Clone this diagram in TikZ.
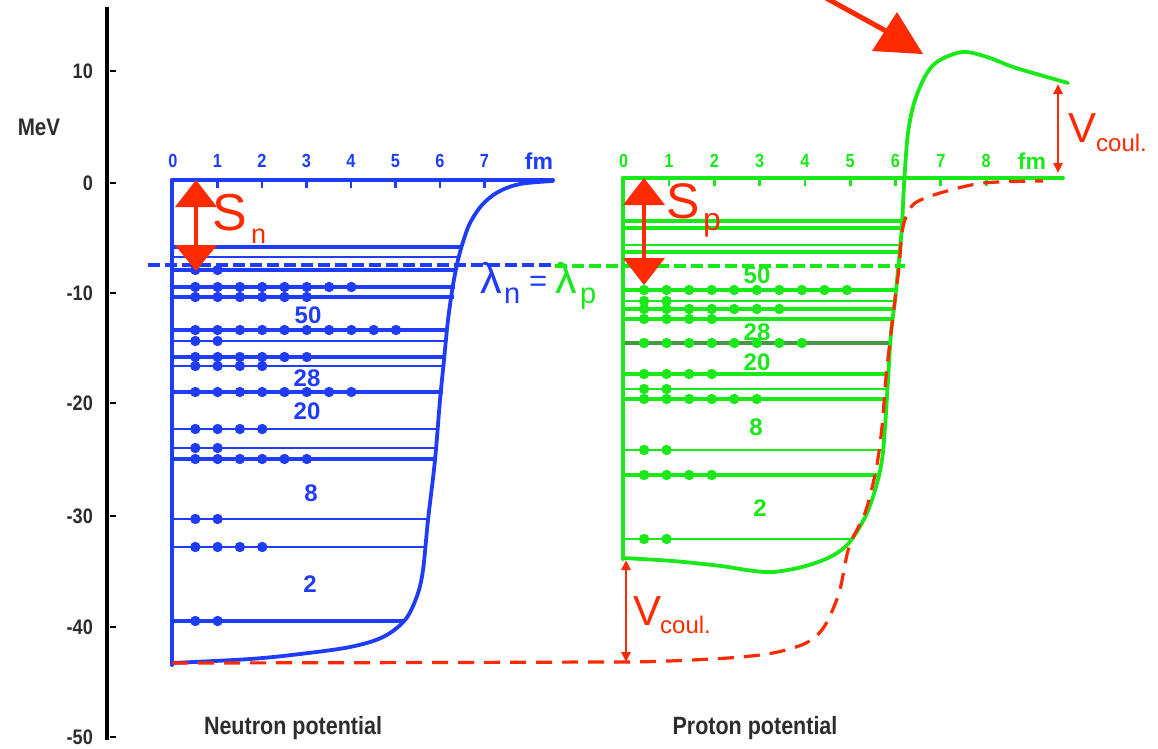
\documentclass[tikz,border=0pt]{standalone}
\usepackage{fontspec}
\setmainfont{Liberation Sans}
\newfontfamily\nb[FakeStretch=0.86]{Liberation Sans}
\usetikzlibrary{arrows.meta}
\definecolor{nblue}{RGB}{30,60,250}
\definecolor{pgreen}{RGB}{25,232,25}
\definecolor{pdark}{RGB}{70,150,70}
\definecolor{cred}{RGB}{255,42,0}
\definecolor{tgray}{RGB}{45,45,45}
\newcommand\myfs[1]{\fontsize{#1}{#1}\selectfont}
\begin{document}
\begin{tikzpicture}[x=1pt,y=-1pt,
  axlab/.style={anchor=east,inner sep=0,text=tgray,font=\nb\bfseries\myfs{21}},
  fmlab/.style={inner sep=0,font=\nb\bfseries\myfs{19}},
  fmunit/.style={inner sep=0,font=\bfseries\myfs{23}},
  magic/.style={inner sep=0,font=\bfseries\myfs{24}},
  redtxt/.style={inner sep=0,anchor=base west,text=cred},
  captxt/.style={inner sep=0,text=tgray,font=\nb\bfseries\myfs{25}},
  wall/.style={line width=3.8pt,line join=round,line cap=round},
  fermi/.style={line width=4pt,dash pattern=on 12pt off 5pt},
  reddash/.style={cred,line width=3.2pt,dash pattern=on 16pt off 10pt},
  vcarrow/.style={cred,line width=2.6pt,{Triangle[length=10pt,width=9pt]}-{Triangle[length=10pt,width=9pt]}},
]
\useasboundingbox (0,0) rectangle (1158,748);
\fill[white] (0,0) rectangle (1158,748);

% ---------- energy axis ----------
\draw[black,line width=4pt] (107,7) coordinate (axT) -- (107,740) coordinate (axB);
\foreach \v/\y in {10/71,0/183,-10/293,-20/403,-30/516,-40/627,-50/737}{
  \draw[black,line width=2.2pt] (110,\y) -- (116,\y);
  \node[axlab] (ax\y) at (93,\y) {\v};
}
\node[inner sep=0,text=tgray,font=\nb\bfseries\myfs{24}] (mev) at (39,127) {MeV};

% ---------- neutron well ----------
\foreach \y/\xe/\n/\w in {270/457/2/3.2,287/455/8/3.2,297/454/6/3.2,330/448/10/3.2,341/447/2/2.8,
  357/446/6/3.2,366/445/4/2.8,392/443/8/3.6,429/438/4/2.8,448/436/2/2.8,459/434/6/3.6,
  519/428/2/2.8,547/425/4/2.4,621/405/2/3.6}{
  \draw[nblue,line width=\w pt] (172,\y) -- (\xe,\y);
  \foreach \k in {1,...,\n}{\fill[nblue] (173+22.3*\k,\y) circle[radius=5.2pt];}
}
\draw[nblue,line width=3.6pt] (172,247) -- (460,247);
\draw[nblue,line width=2.8pt] (172,257) -- (458,257);
\draw[nblue,wall] (172,180) -- (553,180);
\draw[nblue,wall] (172,180) -- (172,665);
\foreach \k in {1,...,7}{\draw[nblue,line width=2.8pt] (173+44.5*\k,180) -- (173+44.5*\k,188);}
\draw[nblue,wall] plot[smooth,tension=0.55] coordinates {(172,663) (250,659) (300,654) (350,647)
  (383,637) (405,620) (417,596) (423,570) (428,520) (435,460) (440,400) (444,360) (448,320)
  (453,285) (458,260) (463,242) (470,223) (482,205) (498,192) (520,184) (553,181)};
\foreach \k in {0,...,7}{\node[fmlab,text=nblue] (nfm\k) at (173+44.5*\k,161) {\k};}
\node[fmunit,text=nblue] (nfmu) at (539,161) {fm};
\foreach \t/\x/\y in {50/308/315,28/307/378,20/307/411,8/311/493,2/310/584}{
  \node[magic,text=nblue] (nm\t) at (\x,\y) {\t};
}

% ---------- proton well ----------
\foreach \y/\xe/\n/\w in {290/896/10/3.2,301/895/2/2.8,309/894/7/3.2,319/893/4/3.2,
  374/887/4/3.6,389/886/2/2.8,399/886/6/3.2,450/882/2/2.8,475/878/4/3.6,539/851/2/2.8}{
  \draw[pgreen,line width=\w pt] (623,\y) -- (\xe,\y);
  \foreach \k in {1,...,\n}{\fill[pgreen] (621.5+22.55*\k,\y) circle[radius=5.2pt];}
}
\draw[pdark,line width=3.6pt] (623,343) -- (889,343);
\foreach \k in {1,...,8}{\fill[pgreen] (621.5+22.55*\k,343) circle[radius=5.2pt];}
\foreach \y/\w in {221/3.6,228/3.6,245/2.8,252/3.2}{\draw[pgreen,line width=\w pt] (623,\y) -- (901,\y);}
\draw[pgreen,wall] (623,178) -- (1063,178);
\draw[pgreen,wall] (623,178) -- (623,559);
\foreach \k in {1,...,8}{\draw[pgreen,line width=2.8pt] (623.7+45.3*\k,178) -- (623.7+45.3*\k,186);}
\draw[pgreen,wall] plot[smooth,tension=0.55] coordinates {(623,558) (673,561) (721,566) (750,570.5)
  (773,572) (802,567) (828,558) (845,547) (856,533) (867,513) (876,487) (882,460) (885,427)
  (888,380) (891,333) (895,300) (899,260) (902,225) (904,185) (908,133) (915,100) (927,73)
  (940,60) (963,52) (987,57) (1013,67) (1040,75) (1068,83)};
\foreach \k in {0,...,8}{\node[fmlab,text=pgreen] (pfm\k) at (623.7+45.3*\k,161) {\k};}
\node[fmunit,text=pgreen] (pfmu) at (1032,161) {fm};
\foreach \t/\x/\y in {50/757/275,28/757/332,20/757/362,8/756/427,2/760/508}{
  \node[magic,text=pgreen] (pm\t) at (\x,\y) {\t};
}

% ---------- Fermi levels ----------
\draw[nblue,fermi] (148,265) -- (555,265);
\draw[pgreen,fermi] (555,266) -- (905,266);
\node[redtxt,text=nblue,font=\myfs{43}] (lamn) at (480,293) {λ};
\node[redtxt,text=nblue,font=\myfs{29}] (lamnsub) at (504,303) {n};
\node[redtxt,text=nblue,font=\myfs{31}] (eq) at (529,291) {=};
\node[redtxt,text=pgreen,font=\myfs{43}] (lamp) at (555,293) {λ};
\node[redtxt,text=pgreen,font=\myfs{29}] (lampsub) at (580,303) {p};

% ---------- red dashed potential (without Coulomb) ----------
\draw[reddash] plot[smooth,tension=0.5] coordinates {(172,663) (400,662.6) (591,662) (654,661.5)
  (728,658) (773,653) (806,643) (824,627) (839,593) (849,547) (865,513) (876,470) (882,427)
  (886,377) (891,333) (895,300) (899,267) (902,233) (906,217) (915,203) (940,193) (983,183) (1043,181)};

% ---------- separation energy arrows ----------
\coordinate (snT) at (196,180); \coordinate (snB) at (196,271);
\fill[cred] (snT) -- (217,207) -- (175,207) -- cycle;
\fill[cred] (snB) -- (217,245) -- (175,245) -- cycle;
\draw[cred,line width=4.5pt] (196,204) -- (196,248);
\node[redtxt,font=\myfs{52}] (sn) at (212,230) {S};
\node[redtxt,font=\myfs{27}] (snsub) at (251,243) {n};

\coordinate (spT) at (644,178); \coordinate (spB) at (644,285);
\fill[cred] (spT) -- (665,205) -- (623,205) -- cycle;
\fill[cred] (spB) -- (665,258) -- (623,258) -- cycle;
\draw[cred,line width=4.5pt] (644,202) -- (644,261);
\node[redtxt,font=\myfs{50}] (sp) at (666,218) {S};
\node[redtxt,font=\myfs{32}] (spsub) at (703,230) {p};

% ---------- Coulomb arrows ----------
\coordinate (vcTa) at (1058,84); \coordinate (vcTb) at (1058,173);
\draw[vcarrow] (vcTa) -- (vcTb);
\node[redtxt,font=\myfs{42}] (vct) at (1068,142) {V};
\node[redtxt,font=\myfs{24}] (vctsub) at (1096,151) {coul.};

\coordinate (vcBa) at (626,560); \coordinate (vcBb) at (626,662);
\draw[vcarrow] (vcBa) -- (vcBb);
\node[redtxt,font=\myfs{42}] (vcb) at (633,625) {V};
\node[redtxt,font=\myfs{24}] (vcbsub) at (660,633) {coul.};

% ---------- barrier arrow ----------
\coordinate (baS) at (826,-2); \coordinate (baE) at (886,31);
\draw[cred,line width=5pt] (baS) -- (baE);
\fill[cred] (897,12) -- (923,54) -- (872,51) -- cycle;

% ---------- captions ----------
\node[captxt] (capn) at (293,728) {Neutron potential};
\node[captxt] (capp) at (755,728) {Proton potential};
\end{tikzpicture}
\end{document}
